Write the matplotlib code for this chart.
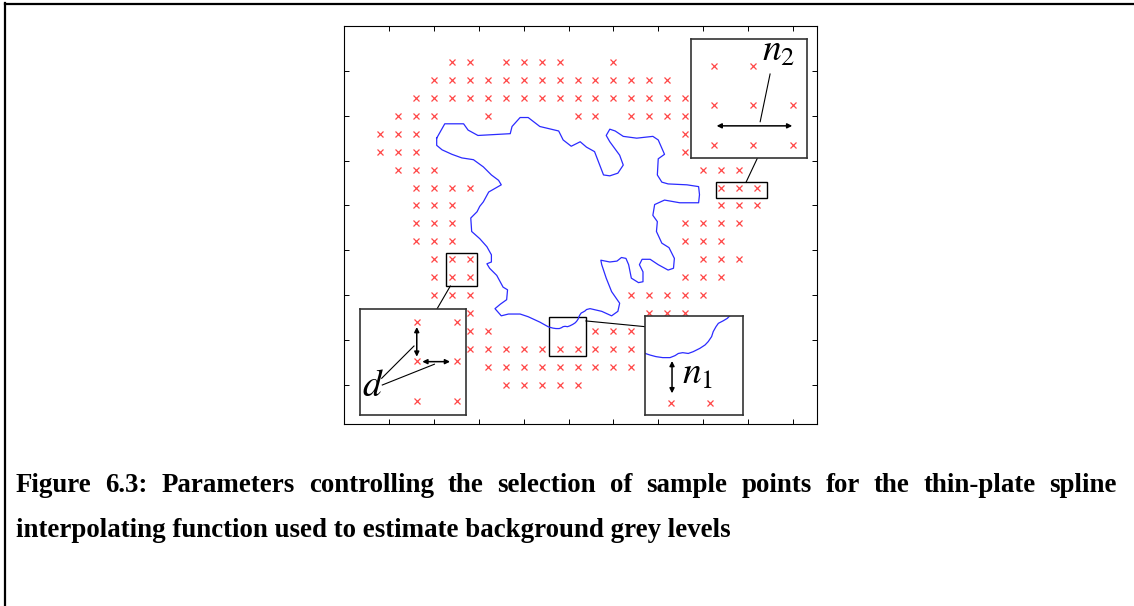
import matplotlib
matplotlib.use("Agg")
import matplotlib.pyplot as plt
from matplotlib.lines import Line2D
from matplotlib.patches import Rectangle

plt.rcParams["mathtext.fontset"] = "stix"

W, H = 1134, 606

# background sample points (image pixels): one row of x positions per y
row_y = [40, 60, 80, 100, 120, 140, 160, 180, 200, 220,
         240, 260, 280, 300, 320, 340, 360, 380, 400]
row_x = [
    [120, 140, 180, 200, 220, 240, 300],
    [100, 120, 140, 160, 180, 200, 220, 240, 260, 280, 300, 320, 340, 360],
    [80, 100, 120, 140, 160, 180, 200, 220, 240, 260, 280, 300, 320, 340, 360, 380],
    [60, 80, 100, 160, 260, 280, 320, 340, 360, 380],
    [40, 60, 80, 380],
    [40, 60, 80, 380],
    [60, 80, 100, 400, 420, 440],
    [80, 100, 120, 140, 420, 440, 460],
    [80, 100, 120, 420, 440, 460],
    [80, 100, 120, 380, 400, 420, 440],
    [80, 100, 120, 380, 400, 420],
    [100, 120, 140, 400, 420, 440],
    [100, 120, 140, 380, 400, 420],
    [100, 120, 140, 320, 340, 360, 380, 400],
    [100, 120, 140, 340, 360, 380],
    [140, 160, 280, 300, 320],
    [140, 160, 180, 200, 220, 240, 260, 280, 300, 320],
    [160, 180, 200, 220, 240, 260, 280, 300, 320],
    [180, 200, 220, 240, 260],
]

# segmented object boundary
edge_x = [103, 112, 133, 138, 149, 185, 187, 196, 205, 218, 239, 244, 253, 263,
          270, 279, 289, 296, 305, 311, 307, 296, 292, 296, 302, 311, 326, 344,
          350, 357, 350, 349, 354, 361, 382, 395, 396, 395, 374, 357, 346, 344,
          349, 348, 354, 362, 368, 367, 361, 350, 341, 332, 329, 333, 333, 328,
          320, 317, 314, 309, 304, 296, 286, 287, 292, 298, 307, 305, 298, 287,
          274, 270, 268.6, 266.6, 264.1, 262.9, 261.5, 260.7, 259, 257.4, 254.8,
          251.4, 248.9, 246.1, 243.9, 242.2, 239.7, 236, 232.6, 229.6, 227.2,
          218, 205, 196, 183, 175, 168, 174, 181, 182, 177, 170, 162, 159, 164,
          164, 159, 151, 142, 141, 148, 151, 155, 161, 175, 172, 164, 155, 144,
          131, 120, 109, 103]
edge_y = [125, 109, 109, 116, 122, 120, 112, 102, 102, 112, 117, 127, 134, 129,
          135, 140, 166, 167, 164, 155, 144, 129, 122, 115, 117, 123, 125, 123,
          127, 143, 148, 166, 174, 176, 177, 179, 188, 197, 197, 194, 199, 211,
          218, 229, 242, 247, 259, 270, 272, 266, 260, 260, 266, 274, 285, 286,
          281, 266, 259, 258, 262, 263, 261, 266, 281, 296, 309, 318, 323, 318,
          315, 316, 317.4, 318.6, 319.9, 321.6, 324.1, 326.6, 329.1, 330.8, 332.5,
          334.2, 335.1, 334.7, 335.1, 336.2, 337.2, 337.2, 336.7, 335.9, 335.1,
          330, 324, 321, 321, 323, 315, 310, 305, 294, 291, 278, 270, 265, 263,
          255, 246, 237, 229, 214, 207, 201, 196, 185, 177, 172, 166, 157, 149,
          147, 143, 138, 133]

# sample spacing sketch for the "d" inset (local units)
d_pts_x = [29, 49]
d_pts_y = [6.5, 26.5, 46.5]

caption_1 = ("Figure 6.3: Parameters controlling the selection of sample "
             "points for the thin-plate spline")
caption_2 = "interpolating function used to estimate background grey levels"

fig = plt.figure(figsize=(W / 100, H / 100), dpi=100)


def px_axes(x0, y0, x1, y1):
    return fig.add_axes([x0 / W, 1 - y1 / H, (x1 - x0) / W, (y1 - y0) / H])


def draw_samples(ax):
    for y, xs in zip(row_y, row_x):
        ax.plot(xs, [y] * len(xs), ls="none", marker="x", ms=4.2, mew=0.9,
                color="#ff4646")


def draw_edge(ax):
    ax.plot(edge_x + edge_x[:1], edge_y + edge_y[:1], color="#2b2bff", lw=0.9)


def inset_frame(ax):
    ax.set_xticks([])
    ax.set_yticks([])
    for s in ax.spines.values():
        s.set_color("#333333")
        s.set_linewidth(1.2)


def darrow(ax, p0, p1):
    ax.annotate("", xy=p1, xytext=p0,
                arrowprops=dict(arrowstyle="<|-|>", color="k", lw=1.1,
                                mutation_scale=7, shrinkA=0, shrinkB=0))


# main image axes
ax = px_axes(344.3, 26, 817, 423.5)
draw_samples(ax)
draw_edge(ax)
ax.set_xlim(0, 527)
ax.set_ylim(443, 0)
ax.set_xticks(range(50, 501, 50))
ax.set_yticks(range(50, 401, 50))
ax.tick_params(direction="in", length=3.5, width=0.7, top=True, right=True,
               labelbottom=False, labelleft=False)
for s in ax.spines.values():
    s.set_linewidth(0.8)

# regions picked out for the close-ups, with leader lines
for (x0, y0, w, h) in [(414.3, 174.3, 56.6, 17.1), (113, 253.3, 34.9, 36.5),
                       (227.8, 324.6, 41.6, 42.8)]:
    ax.add_patch(Rectangle((x0, y0), w, h, fill=False, ec="k", lw=1.0))
ax.plot([447.8, 460.4], [174.3, 147.6], color="k", lw=0.8)
ax.plot([118.2, 103.3], [289.8, 315.4], color="k", lw=0.8)
ax.plot([269.4, 335.5], [328.7, 335.1], color="k", lw=0.8)

# close-up: n2
ax_tr = px_axes(690.7, 39, 806.7, 158.3)
draw_samples(ax_tr)
ax_tr.set_xlim(408.4, 467)
ax_tr.set_ylim(206.8, 146.5)
inset_frame(ax_tr)
darrow(ax_tr, (421.5, 190.4), (459.7, 190.4))
ax_tr.plot([448.5, 443.5], [164.2, 188.3], color="k", lw=0.8)
ax_tr.text(444.5, 157.5, r"$n_2$", fontsize=27, ha="left", va="baseline")

# close-up: n1
ax_br = px_axes(645.3, 316, 742.7, 414.7)
draw_samples(ax_br)
draw_edge(ax_br)
ax_br.set_xlim(227.2, 276.4)
ax_br.set_ylim(366, 316.2)
inset_frame(ax_br)
darrow(ax_br, (240.7, 338.9), (240.7, 355.2))
ax_br.text(245.8, 350.5, r"$n_1$", fontsize=27, ha="left", va="baseline")

# close-up: d
ax_bl = px_axes(359.7, 309, 466.3, 414.7)
for y in d_pts_y:
    ax_bl.plot(d_pts_x, [y] * len(d_pts_x), ls="none", marker="x", ms=4.2,
               mew=0.9, color="#ff4646")
ax_bl.set_xlim(0, 53.8)
ax_bl.set_ylim(53.4, 0)
inset_frame(ax_bl)
darrow(ax_bl, (28.8, 9.1), (28.8, 24.1))
darrow(ax_bl, (31.6, 26.6), (45.6, 26.6))
ax_bl.plot([11.1, 27.4], [35, 18.7], color="k", lw=0.8)
ax_bl.plot([11.4, 37.7], [38.4, 27.9], color="k", lw=0.8)
ax_bl.text(1.0, 44.0, r"$d$", fontsize=27, ha="left", va="baseline")

# page frame
fig.add_artist(Line2D([4.5 / W, 1], [1 - 3.5 / H, 1 - 3.5 / H],
                      transform=fig.transFigure, color="k", lw=1.6))
fig.add_artist(Line2D([5 / W, 5 / W], [0, 1 - 3 / H],
                      transform=fig.transFigure, color="k", lw=1.6))

# caption, first line justified between the margins
r = fig.canvas.get_renderer()
cap_font = dict(family="Liberation Serif", fontweight="bold")
t2 = fig.text(16 / W, 1 - 537 / H, caption_2, fontsize=19, va="baseline",
              **cap_font)
fs = 19 * 714 / t2.get_window_extent(r).width
t2.set_fontsize(fs)

words = caption_1.split()
word_t = [fig.text(0, 1 - 492 / H, wd, fontsize=fs, va="baseline", **cap_font)
          for wd in words]
widths = [t.get_window_extent(r).width for t in word_t]
gap = (1117 - 16 - sum(widths)) / (len(words) - 1)
x = 16
for t, w in zip(word_t, widths):
    t.set_x(x / W)
    x += w + gap

fig.savefig("out.png", dpi=100)
